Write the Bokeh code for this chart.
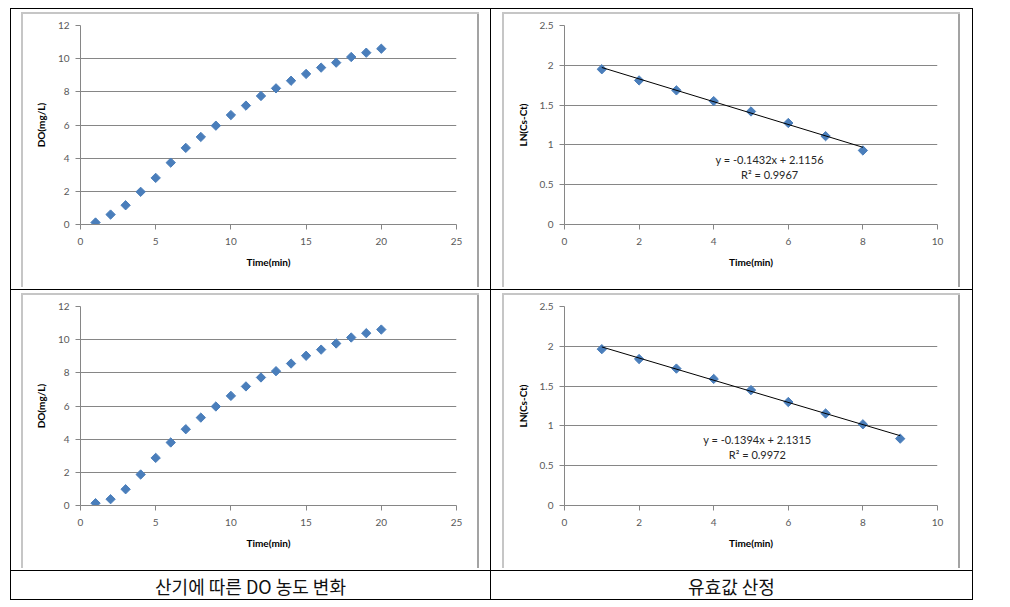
import math
from bokeh.plotting import figure
from bokeh.models import Range1d, FixedTicker, NumeralTickFormatter, Label, Spacer
from bokeh.layouts import column, row
from bokeh.embed import file_html
from bokeh.resources import INLINE

# ---------------- data ----------------
time_a = list(range(1, 21))
do_a = [0.12, 0.60, 1.16, 1.97, 2.81, 3.73, 4.62, 5.28, 5.96, 6.60,
        7.17, 7.75, 8.21, 8.67, 9.08, 9.46, 9.76, 10.10, 10.36, 10.60]
time_b = list(range(1, 21))
do_b = [0.14, 0.38, 0.98, 1.87, 2.87, 3.80, 4.60, 5.30, 5.97, 6.61,
        7.18, 7.72, 8.10, 8.56, 9.03, 9.40, 9.77, 10.13, 10.39, 10.61]
time_c = list(range(1, 9))
ln_c = [1.95, 1.81, 1.685, 1.55, 1.42, 1.275, 1.11, 0.93]
time_d = list(range(1, 10))
ln_d = [1.964, 1.84, 1.72, 1.59, 1.45, 1.30, 1.156, 1.02, 0.84]
fit_c = {"slope": -0.1432, "intercept": 2.1156, "r2": 0.9967}
fit_d = {"slope": -0.1394, "intercept": 2.1315, "r2": 0.9972}
do_xticks = [0, 5, 10, 15, 20, 25]
do_yticks = [0, 2, 4, 6, 8, 10, 12]
ln_xticks = [0, 2, 4, 6, 8, 10]
ln_yticks = [0, 0.5, 1, 1.5, 2, 2.5]
caption_left = "산기에 따른 DO 농도 변화"
caption_right = "유효값 산정"

FONT = "Lato"
MARKER = "#4A7EBB"
AXIS = "#868686"


def block(w, h, color=None):
    if color is None:
        return Spacer(width=w, height=h)
    return Spacer(width=w, height=h, styles={"background-color": color})


def chart(xs, ys, xt, yt, ylabel, ml, fmt, fit=None, eq=None):
    p = figure(width=454, height=273, x_range=Range1d(xt[0], xt[-1]),
               y_range=Range1d(yt[0], yt[-1]), toolbar_location=None,
               output_backend="svg", min_border_left=ml, min_border_right=21,
               min_border_top=11, min_border_bottom=63)
    p.outline_line_color = None
    p.background_fill_color = "white"
    p.border_fill_color = "white"
    p.xaxis.ticker = FixedTicker(ticks=xt)
    p.yaxis.ticker = FixedTicker(ticks=yt)
    p.yaxis.formatter = NumeralTickFormatter(format=fmt)
    p.xaxis.formatter = NumeralTickFormatter(format="0")
    for ax in (p.xaxis[0], p.yaxis[0]):
        ax.axis_line_color = AXIS
        ax.major_tick_line_color = AXIS
        ax.minor_tick_line_color = None
        ax.major_tick_in = 0
        ax.major_tick_out = 5
        ax.major_label_text_font = FONT
        ax.major_label_text_font_size = "10px"
        ax.major_label_text_color = "#595959"
        ax.axis_label_text_font = FONT
        ax.axis_label_text_font_size = "10px"
        ax.axis_label_text_font_style = "bold"
        ax.axis_label_text_color = "#000000"
    p.xaxis.major_label_standoff = 8
    p.yaxis.major_label_standoff = 6
    p.xaxis.axis_label = "Time(min)"
    p.xaxis.axis_label_standoff = 8
    p.yaxis.axis_label = ylabel
    p.yaxis.axis_label_standoff = 8
    p.xgrid.grid_line_color = None
    p.ygrid.grid_line_color = AXIS
    p.ygrid.grid_line_width = 1

    p.scatter(xs, ys, marker="square", size=6.6, angle=math.pi / 4,
              fill_color=MARKER, line_color=MARKER)
    if fit is not None:
        xf = [xs[0], xs[-1]]
        yf = [fit["slope"] * x + fit["intercept"] for x in xf]
        p.line(xf, yf, line_color="black", line_width=1)
        l1 = Label(x=eq[0], y=eq[1], text="y = %.4fx + %.4f" % (fit["slope"], fit["intercept"]),
                   text_align="center", text_baseline="middle", text_font=FONT,
                   text_font_size="11px", text_color="#262626")
        l2 = Label(x=eq[0], y=eq[2], text="R² = %.4f" % fit["r2"],
                   text_align="center", text_baseline="middle", text_font=FONT,
                   text_font_size="11px", text_color="#262626")
        p.add_layout(l1)
        p.add_layout(l2)
    return p


def cell(p, lpad, rpad):
    # Excel chart-area frame: light grey left/top, darker grey right, open bottom
    inner = column(
        block(458, 3),
        block(458, 2, "#C6C6C6"),
        row(block(2, 273, "#C6C6C6"), p, block(2, 273, "#A3A3A3")),
        block(458, 2),
    )
    return row(block(lpad, 280), inner, block(rpad, 280))


def caption(w, text, cx):
    p = figure(width=w, height=28, x_range=Range1d(0, w), y_range=Range1d(0, 28),
               toolbar_location=None, output_backend="svg", min_border=0,
               x_axis_type=None, y_axis_type=None)
    p.outline_line_color = None
    p.grid.visible = False
    p.add_layout(Label(x=cx, y=14, text=text, text_align="center",
                       text_baseline="middle", text_font="Noto Sans CJK KR",
                       text_font_size="18px", text_color="#111111"))
    return p


pa = chart(time_a, do_a, do_xticks, do_yticks, "DO(mg/L)", 57, "0")
pb = chart(time_c, ln_c, ln_xticks, ln_yticks, "LN(Cs-Ct)", 60, "0.[0]",
           fit=fit_c, eq=(5.5, 0.82, 0.63))
pc = chart(time_b, do_b, do_xticks, do_yticks, "DO(mg/L)", 57, "0")
pd = chart(time_d, ln_d, ln_xticks, ln_yticks, "LN(Cs-Ct)", 60, "0.[0]",
           fit=fit_d, eq=(5.17, 0.83, 0.64))
ca = caption(479, caption_left, 239)
cb = caption(481, caption_right, 240)

TW = 963  # table width including lines


def vline(h):
    return block(1, h, "#000000")


def hline():
    return block(TW, 1, "#000000")


table = column(
    hline(),
    row(vline(280), cell(pa, 10, 11), vline(280), cell(pb, 11, 12), vline(280)),
    hline(),
    row(vline(280), cell(pc, 10, 11), vline(280), cell(pd, 11, 12), vline(280)),
    hline(),
    row(vline(28), ca, vline(28), cb, vline(28)),
    hline(),
)

layout = column(block(TW + 10, 8), row(block(10, 600), table))
open("out.html", "w").write(file_html(layout, INLINE))
